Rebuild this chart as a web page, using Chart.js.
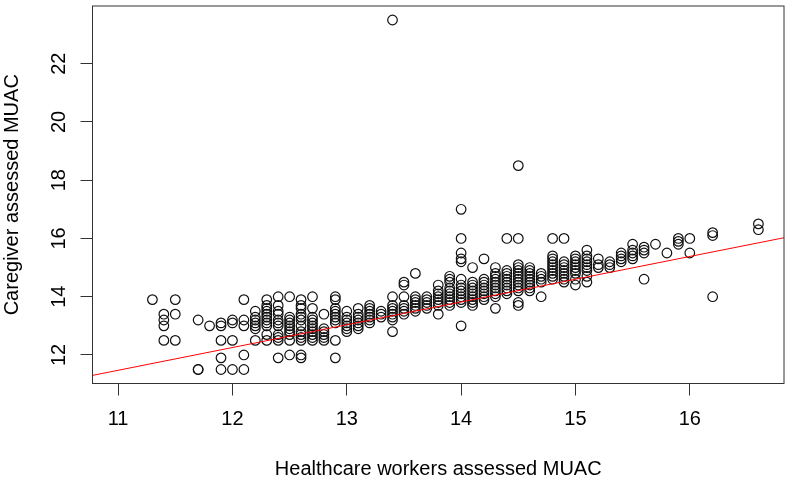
<!DOCTYPE html>
<html>
<head>
<meta charset="utf-8">
<script src="https://cdn.jsdelivr.net/npm/chart.js@4/dist/chart.umd.min.js"></script>
<style>
  html, body { margin:0; padding:0; background:#fff; }
  #wrap { width:790px; height:477px; }
</style>
</head>
<body>
<div id="wrap"><canvas id="c" width="790" height="477"></canvas></div>
<script>
// --- data ---
// healthcare worker MUAC (x), one entry per column of points
const hwMuac = [11.3, 11.4, 11.5, 11.7, 11.8, 11.9, 12.0, 12.1, 12.2, 12.3,
  12.4, 12.5, 12.6, 12.7, 12.8, 12.9, 13.0, 13.1, 13.2, 13.3,
  13.4, 13.5, 13.6, 13.7, 13.8, 13.9, 14.0, 14.1, 14.2, 14.3,
  14.4, 14.5, 14.6, 14.7, 14.8, 14.9, 15.0, 15.1, 15.2, 15.3,
  15.4, 15.5, 15.6, 15.7, 15.8, 15.9, 16.0, 16.2, 16.6];

// caregiver MUAC (y) for each of those columns
const cgMuac = [
  [13.9],
  [13.4, 13.2, 13.0, 12.5],
  [13.9, 13.4, 12.5],
  [13.2, 11.5, 11.5],
  [13.0],
  [13.1, 13.0, 12.5, 11.9, 11.5],
  [13.2, 13.1, 12.5, 11.5],
  [13.9, 13.2, 13.0, 12.0, 11.5],
  [13.5, 13.3, 13.2, 13.1, 13.0, 12.9, 12.5],
  [13.9, 13.7, 13.6, 13.5, 13.4, 13.3, 13.2, 13.1, 13.0, 12.7, 12.5],
  [14.0, 13.7, 13.5, 13.4, 13.2, 13.1, 13.0, 12.7, 12.6, 12.5, 11.9],
  [14.0, 13.3, 13.2, 13.1, 13.0, 12.9, 12.8, 12.7, 12.5, 12.0],
  [13.9, 13.7, 13.6, 13.4, 13.3, 13.2, 13.0, 12.8, 12.7, 12.6, 12.5, 12.0, 11.9],
  [14.0, 13.6, 13.3, 13.2, 13.1, 13.0, 12.9, 12.8, 12.7, 12.6, 12.5],
  [13.4, 12.9, 12.8, 12.7, 12.6, 12.5],
  [14.0, 13.9, 13.6, 13.5, 13.4, 13.3, 13.2, 13.1, 12.5, 11.9],
  [13.5, 13.3, 13.2, 13.1, 13.0, 12.9, 12.8],
  [13.6, 13.4, 13.3, 13.2, 13.1, 13.0, 12.9],
  [13.7, 13.6, 13.5, 13.4, 13.3, 13.2, 13.1],
  [13.5, 13.4, 13.3],
  [23.5, 14.0, 13.7, 13.6, 13.5, 13.4, 13.3, 13.2, 12.8],
  [14.5, 14.4, 14.0, 13.7, 13.6, 13.5, 13.4],
  [14.8, 14.0, 13.9, 13.8, 13.7, 13.6, 13.5],
  [14.0, 13.9, 13.8, 13.7, 13.6],
  [14.4, 14.2, 14.1, 14.0, 13.9, 13.8, 13.7, 13.4],
  [14.7, 14.6, 14.5, 14.3, 14.2, 14.1, 14.0, 13.9, 13.8, 13.7],
  [17.0, 16.0, 15.5, 15.3, 15.2, 14.6, 14.4, 14.3, 14.2, 14.1, 14.0, 13.9, 13.8, 13.0],
  [15.0, 14.5, 14.4, 14.3, 14.2, 14.1, 14.0, 13.9, 13.8, 13.7],
  [15.3, 14.6, 14.5, 14.4, 14.3, 14.2, 14.1, 14.0, 13.9],
  [15.0, 14.8, 14.7, 14.6, 14.5, 14.4, 14.3, 14.2, 14.1, 14.0, 13.6],
  [16.0, 14.9, 14.8, 14.7, 14.6, 14.5, 14.4, 14.3, 14.2, 14.1],
  [18.5, 16.0, 15.1, 15.0, 14.9, 14.8, 14.7, 14.6, 14.5, 14.4, 14.3, 14.2, 13.8, 13.7],
  [15.0, 14.9, 14.8, 14.7, 14.6, 14.5, 14.4, 14.3, 14.2],
  [14.8, 14.7, 14.6, 14.5, 14.0],
  [16.0, 15.4, 15.3, 15.2, 15.1, 15.0, 14.9, 14.8, 14.7, 14.6],
  [16.0, 15.2, 15.1, 15.0, 14.9, 14.8, 14.7, 14.6, 14.5],
  [15.4, 15.3, 15.2, 15.1, 15.0, 14.9, 14.8, 14.6, 14.4],
  [15.6, 15.4, 15.3, 15.2, 15.1, 15.0, 14.9, 14.7, 14.5],
  [15.3, 15.1, 15.0],
  [15.2, 15.1, 15.0],
  [15.5, 15.4, 15.3, 15.2],
  [15.8, 15.6, 15.5, 15.4, 15.3],
  [15.7, 15.6, 15.5, 14.6],
  [15.8],
  [15.5],
  [16.0, 15.9, 15.8],
  [16.0, 15.5],
  [16.2, 16.1, 14.0],
  [16.5, 16.3]
];

// fitted line (abline)
const fitIntercept = 2.878;
const fitSlope = 0.7814;

// axes
const xRange = [10.776, 16.824];
const yRange = [11.02, 23.98];
const xTicks = [11, 12, 13, 14, 15, 16];
const yTicks = [12, 14, 16, 18, 20, 22];

const FONT = 'Liberation Sans, Arial, Helvetica, sans-serif';

// --- build point list ---
const points = [];
hwMuac.forEach((x, i) => {
  cgMuac[i].forEach(y => points.push({ x: x, y: y }));
});
const fitLine = xRange.map(x => ({ x: x, y: fitIntercept + fitSlope * x }));

// box around the plot + rotated y labels (R style)
const rFrame = {
  id: 'rFrame',
  afterDraw(chart) {
    const { ctx, chartArea: a } = chart;
    const ys = chart.scales.y;
    ctx.save();
    ctx.strokeStyle = '#333';
    ctx.lineWidth = 1;
    ctx.strokeRect(a.left, a.top, a.right - a.left, a.bottom - a.top);

    ctx.fillStyle = '#000';
    ctx.font = '20px ' + FONT;
    ctx.textAlign = 'center';
    ctx.textBaseline = 'alphabetic';
    yTicks.forEach(v => {
      const py = ys.getPixelForValue(v);
      ctx.save();
      ctx.translate(65, py);
      ctx.rotate(-Math.PI / 2);
      ctx.fillText(String(v), 0, 0);
      ctx.restore();
    });
    ctx.restore();
  }
};

new Chart(document.getElementById('c'), {
  type: 'scatter',
  data: {
    datasets: [
      {
        type: 'line',
        data: fitLine,
        borderColor: '#ff0000',
        borderWidth: 1,
        pointRadius: 0,
        fill: false
      },
      {
        data: points,
        pointStyle: 'circle',
        pointRadius: 4.8,
        pointBorderWidth: 1.2,
        pointBorderColor: '#111',
        pointBackgroundColor: 'rgba(0,0,0,0)'
      }
    ]
  },
  options: {
    responsive: false,
    devicePixelRatio: 1,
    animation: false,
    layout: { padding: { left: 0, right: 1.5, top: 1.5, bottom: 0 } },
    plugins: { legend: { display: false }, tooltip: { enabled: false } },
    scales: {
      x: {
        type: 'linear',
        position: 'bottom',
        min: xRange[0],
        max: xRange[1],
        afterBuildTicks: s => { s.ticks = xTicks.map(v => ({ value: v })); },
        afterFit: s => { s.height = 93.5; },
        border: { display: false },
        grid: { drawOnChartArea: false, drawTicks: true, tickLength: 12, tickColor: '#333', lineWidth: 1 },
        ticks: { color: '#000', font: { family: FONT, size: 20 }, padding: 12, maxRotation: 0, autoSkip: false },
        title: {
          display: true,
          text: 'Healthcare workers assessed MUAC',
          color: '#000',
          font: { family: FONT, size: 20 },
          padding: { top: 0, bottom: -4 }
        }
      },
      y: {
        type: 'linear',
        position: 'left',
        min: yRange[0],
        max: yRange[1],
        afterBuildTicks: s => { s.ticks = yTicks.map(v => ({ value: v })); },
        afterFit: s => { s.width = 92.5; },
        border: { display: false },
        grid: { drawOnChartArea: false, drawTicks: true, tickLength: 12, tickColor: '#333', lineWidth: 1 },
        ticks: { display: false },
        title: {
          display: true,
          text: 'Caregiver assessed MUAC',
          color: '#000',
          font: { family: FONT, size: 20 },
          padding: { top: 0, bottom: 0 }
        }
      }
    }
  },
  plugins: [rFrame]
});
</script>
</body>
</html>
